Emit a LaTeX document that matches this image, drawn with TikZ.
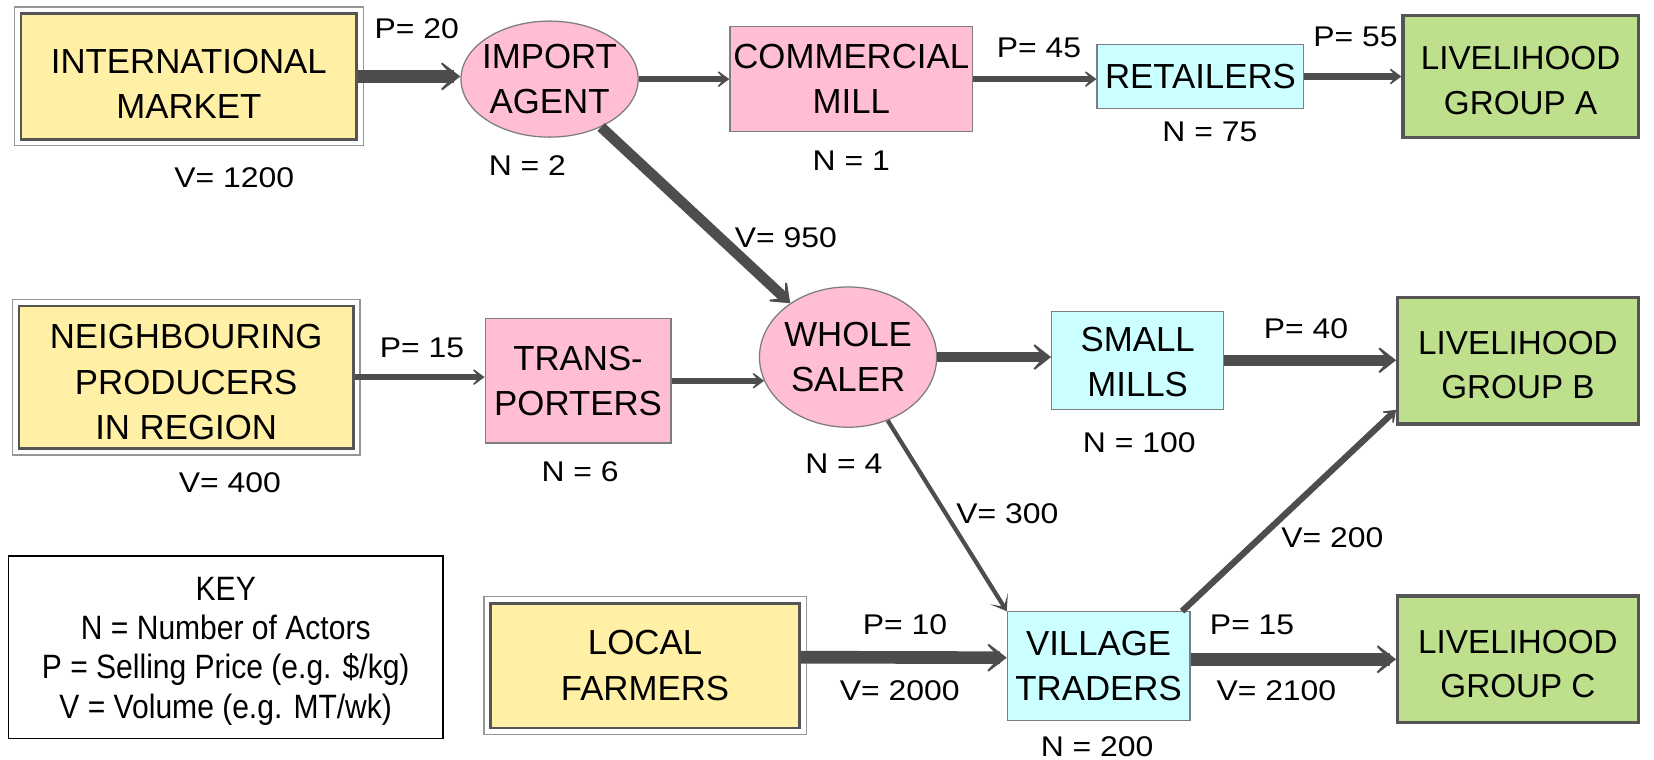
\documentclass[tikz,border=0pt]{standalone}
\usepackage{fontspec}
\setmainfont{Liberation Sans}
\newfontfamily\keyfamily{Liberation Sans}[FakeStretch=0.89]
\newfontfamily\labfamily{Liberation Sans}[FakeStretch=1.12]
\usetikzlibrary{arrows.meta,shapes.geometric}
\definecolor{yfill}{RGB}{255,240,165}
\definecolor{pfill}{RGB}{255,190,212}
\definecolor{cfill}{RGB}{204,255,255}
\definecolor{gfill}{RGB}{190,224,140}
\definecolor{dgray}{RGB}{85,85,85}
\definecolor{mgray}{RGB}{125,125,125}
\definecolor{lgray}{RGB}{150,150,150}
\definecolor{acol}{RGB}{77,77,77}
\newcommand{\mainfnt}{\fontsize{33}{43}\selectfont}
\newcommand{\grpfnt}{\fontsize{31.5}{42}\selectfont}
\newcommand{\labfnt}{\labfamily\fontsize{27}{32}\selectfont}
\newcommand{\keyfnt}{\keyfamily\fontsize{32}{37}\selectfont}
\newcommand{\lift}[1]{\rule{0pt}{#1}}
\tikzset{
  box/.style={rectangle, align=center, inner sep=0pt, font=\mainfnt},
  ybox/.style={box, fill=yfill, draw=dgray, line width=2.5pt},
  frame/.style={draw=lgray, line width=1.2pt},
  pbox/.style={box, fill=pfill, draw=mgray, line width=1.2pt},
  cbox/.style={box, fill=cfill, draw=mgray, line width=1.2pt},
  gbox/.style={box, fill=gfill, draw=dgray, line width=3pt, font=\grpfnt},
  pell/.style={ellipse, fill=pfill, draw=mgray, line width=1.2pt, align=center, inner xsep=-8pt, inner ysep=0pt, font=\mainfnt},
  lab/.style={font=\labfnt, inner sep=0pt},
  heavyarr/.style={draw=acol, line width=12pt, -{Stealth[length=26pt,width=40pt,inset=19pt]}},
  bigarr/.style={draw=acol, line width=10pt, -{Stealth[length=23pt,width=36pt,inset=16pt]}},
  midarr/.style={draw=acol, line width=6pt, -{Stealth[length=15pt,width=22pt,inset=10pt]}},
  thinarr/.style={draw=acol, line width=4pt, -{Stealth[length=14pt,width=20pt,inset=9pt]}},
}
\begin{document}
\begin{tikzpicture}[x=1pt,y=-1pt]
\useasboundingbox[fill=white] (0,0) rectangle (1568,720);
% sources
\node[ybox, minimum width=318, minimum height=119] (intl) at (179,72.5) {\lift{37pt}INTERNATIONAL\\MARKET};
\draw[frame] ([xshift=-5,yshift=5]intl.north west) rectangle ([xshift=5,yshift=-5]intl.south east);
\node[ybox, minimum width=317, minimum height=135] (neigh) at (176.5,357.5) {\lift{33pt}NEIGHBOURING\\PRODUCERS\\IN REGION};
\draw[frame] ([xshift=-5,yshift=5]neigh.north west) rectangle ([xshift=5,yshift=-5]neigh.south east);
\node[ybox, minimum width=293, minimum height=118] (local) at (611.5,631) {LOCAL\\FARMERS};
\draw[frame] ([xshift=-5,yshift=5]local.north west) rectangle ([xshift=5,yshift=-5]local.south east);
% actors
\node[pell, minimum width=168, minimum height=110] (import) at (521,75) {IMPORT\\AGENT};
\node[pbox, minimum width=230, minimum height=100] (comm) at (807,75) {COMMERCIAL\\MILL};
\node[cbox, minimum width=196, minimum height=61] (ret) at (1138,72.5) {RETAILERS};
\node[gbox, minimum width=223, minimum height=115] (ga) at (1441.5,72.5) {\lift{30pt}LIVELIHOOD\\GROUP A};
\node[pbox, minimum width=176, minimum height=118] (trans) at (548,361) {TRANS-\\PORTERS};
\node[pell, minimum width=168, minimum height=133] (whole) at (804,338.5) {WHOLE\\SALER};
\node[cbox, minimum width=163, minimum height=93] (small) at (1078.5,341.5) {\lift{26pt}SMALL\\MILLS};
\node[gbox, minimum width=228, minimum height=120] (gb) at (1439,342) {\lift{30pt}LIVELIHOOD\\GROUP B};
\node[cbox, minimum width=173, minimum height=103] (vill) at (1041.5,631.5) {VILLAGE\\TRADERS};
\node[gbox, minimum width=228, minimum height=120] (gc) at (1439,625) {\lift{31pt}LIVELIHOOD\\GROUP C};
% key
\node[rectangle, draw=black, line width=1.5pt, minimum width=412, minimum height=173, align=center, font=\keyfnt, inner sep=0pt] (key) at (214,613.5) {\lift{30pt}KEY\\N = Number of Actors\\P = Selling Price (e.g. \$/kg)\\V = Volume (e.g. MT/wk)};
% connectors
\draw[heavyarr] (intl.east) -- (intl.east -| import.west);
\draw[midarr] (import.east) -- (comm.west);
\draw[midarr] (comm.east) -- (comm.east -| ret.west);
\draw[midarr] (ret.east) -- (ret.east -| ga.west);
\draw[bigarr] (import) -- (whole);
\draw[midarr] (neigh.east) -- (neigh.east -| trans.west);
\draw[midarr, shorten >=-5pt] (trans.east) -- (trans.east -| whole.west);
\draw[bigarr] (whole.east) -- (whole.east -| small.west);
\draw[bigarr] (small.east) -- (small.east -| gb.west);
\draw[thinarr] (whole) -- (vill.north west);
\draw[midarr] ([xshift=-8]vill.north east) -- ([yshift=15]gb.south west);
\draw[heavyarr] ([yshift=8]local.east) -- ([yshift=8]vill.west);
\draw[heavyarr] (vill.east |- gc.west) -- (gc.west);
% labels
\node[lab] (l1) at (395,27) {P= 20};
\node[lab] (l2) at (222,168) {V= 1200};
\node[lab] (l3) at (500,157) {N = 2};
\node[lab] (l4) at (807,152) {N = 1};
\node[lab] (l5) at (985,45) {P= 45};
\node[lab] (l6) at (1147,125) {N = 75};
\node[lab] (l7) at (1285,35) {P= 55};
\node[lab] (l8) at (745,225) {V= 950};
\node[lab] (l9) at (218,458) {V= 400};
\node[lab] (l10) at (400,330) {P= 15};
\node[lab] (l11) at (550,447) {N = 6};
\node[lab] (l12) at (800,440) {N = 4};
\node[lab] (l13) at (1080,420) {N = 100};
\node[lab] (l14) at (1238,312) {P= 40};
\node[lab] (l15) at (955,487) {V= 300};
\node[lab] (l16) at (1263,510) {V= 200};
\node[lab] (l17) at (858,592) {P= 10};
\node[lab] (l18) at (853,655) {V= 2000};
\node[lab] (l19) at (1040,708) {N = 200};
\node[lab] (l20) at (1187,592) {P= 15};
\node[lab] (l21) at (1210,655) {V= 2100};
\end{tikzpicture}
\end{document}
